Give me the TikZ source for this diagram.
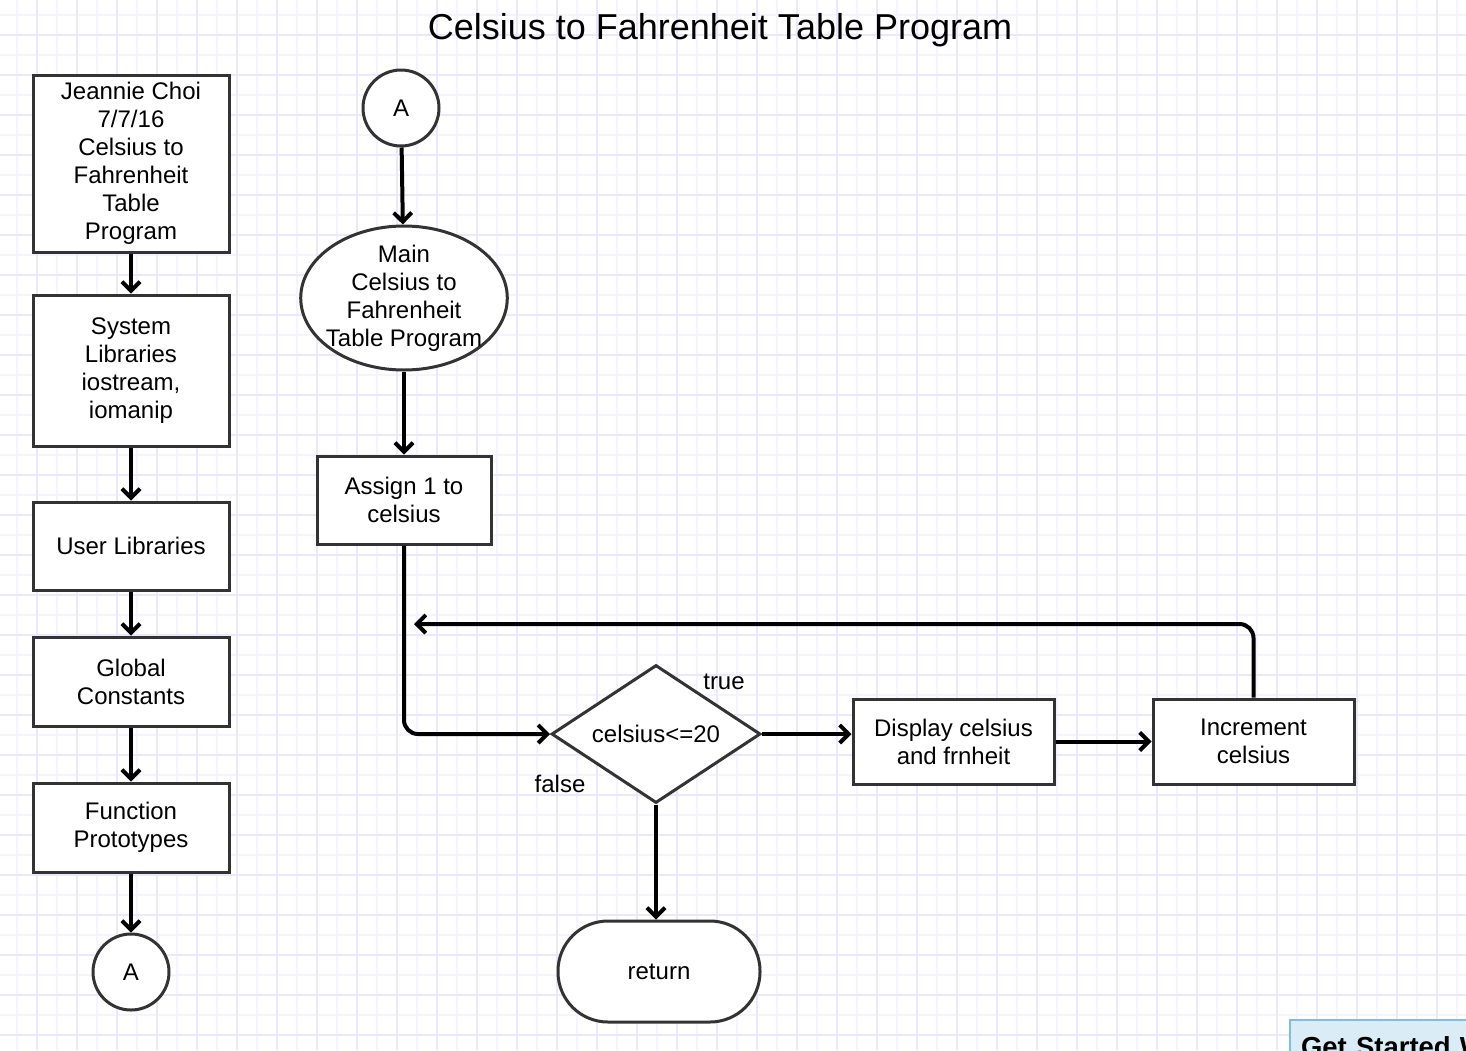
\documentclass[tikz,border=0pt]{standalone}
\usepackage{fontspec}
\setmainfont{Liberation Sans}
\usepackage{tikz}
\usetikzlibrary{shapes.geometric,arrows.meta,positioning}
\definecolor{gridminor}{RGB}{245,243,255}
\definecolor{gridmajor}{RGB}{235,232,253}
\definecolor{boxline}{RGB}{51,51,51}
\definecolor{btnfill}{RGB}{218,236,246}
\definecolor{btnline}{RGB}{126,190,224}

\begin{document}
\begin{tikzpicture}[x=1pt,y=-1pt,
    every node/.style={font=\fontsize{24}{28}\selectfont, align=center, inner sep=0pt},
    block/.style={rectangle, draw=boxline, line width=3pt, fill=white},
    connector/.style={circle, draw=boxline, line width=3pt, fill=white, minimum size=76pt},
    flow/.style={line width=4pt, -{Straight Barb[length=9pt,width=18pt]}}]
    \useasboundingbox (0,0) rectangle (1466,1050);
    \clip (0,0) rectangle (1466,1050);
    \fill [white] (0,0) rectangle (1466,1050);
    \foreach \gx in {17,37,...,1466} \draw [gridminor, line width=2pt] (\gx,0) -- (\gx,1050);
    \foreach \gy in {15,35,...,1050} \draw [gridminor, line width=2pt] (0,\gy) -- (1466,\gy);
    \foreach \gx in {37,77,...,1466} \draw [gridmajor, line width=2pt] (\gx,0) -- (\gx,1050);
    \foreach \gy in {35,75,...,1050} \draw [gridmajor, line width=2pt] (0,\gy) -- (1466,\gy);
    \node (title) at (720,30) [font=\fontsize{36}{42}\selectfont] {Celsius to Fahrenheit Table Program};
    \node (info) at (131,163.5) [block, minimum width=196pt, minimum height=177pt] {Jeannie Choi\\7/7/16\\Celsius to\\Fahrenheit\\Table\\ Program};
    \node (syslib) at (131,370.5) [block, minimum width=196pt, minimum height=151pt] {System\\Libraries\\iostream,\\iomanip};
    \node (userlib) at (131,546) [block, minimum width=196pt, minimum height=88pt] {User Libraries};
    \node (globals) at (131,681.5) [block, minimum width=196pt, minimum height=89pt] {Global\\Constants};
    \node (protos) at (131,827.5) [block, minimum width=196pt, minimum height=89pt] {Function\\Prototypes};
    \node (offA) at (131,972) [connector] {A};
    \node (onA) at (401,108) [connector] {A};
    \node (main) at (404,298) [ellipse, draw=boxline, line width=3pt, fill=white, inner sep=-5pt, minimum width=202pt, minimum height=144pt] {Main\\Celsius to\\Fahrenheit\\Table Program};
    \node (assign) at (404,500) [block, minimum width=174pt, minimum height=88pt] {Assign 1 to\\celsius};
    \node (test) at (656,734) [diamond, aspect=1.5, draw=boxline, line width=3pt, fill=white, minimum width=209pt, minimum height=138pt] {celsius<=20};
    \node (display) at (953.5,741.5) [block, minimum width=201pt, minimum height=85pt] {Display celsius\\and frnheit};
    \node (increment) at (1253.5,741.5) [block, minimum width=201pt, minimum height=85pt] {Increment\\celsius};
    \node (ret) at (659,971.5) [rectangle, rounded corners=50pt, draw=boxline, line width=3pt, fill=white, minimum width=202pt, minimum height=101pt] {return};
    \node (truelbl) at (724,682) {true};
    \node (falselbl) at (560,784) {false};
    \coordinate (loopend) at (414,624);
    \draw (info) edge [flow] (syslib) (syslib) edge [flow] (userlib) (userlib) edge [flow] (globals)
        (globals) edge [flow] (protos) (protos) edge [flow] (offA);
    \draw [flow] (onA) -- (main);
    \draw [flow] (main) -- (assign);
    \draw [flow, rounded corners=14pt] (assign.south) |- (test.west);
    \draw [flow] (test.east) -- (test.east -| display.west);
    \draw [flow] (display) -- (increment);
    \draw [flow] (test.south) -- (test.south |- ret.north);
    \draw [flow, rounded corners=14pt] (increment.north) |- (loopend);
    \node (btn) at (1289,1019) [anchor=north west, rectangle, draw=btnline, fill=btnfill, line width=2pt, minimum height=50pt, text width=260pt, align=left, inner xsep=11pt, inner ysep=17pt, font=\fontsize{27.5}{30}\selectfont\bfseries] {Get Started With};
\end{tikzpicture}
\end{document}
